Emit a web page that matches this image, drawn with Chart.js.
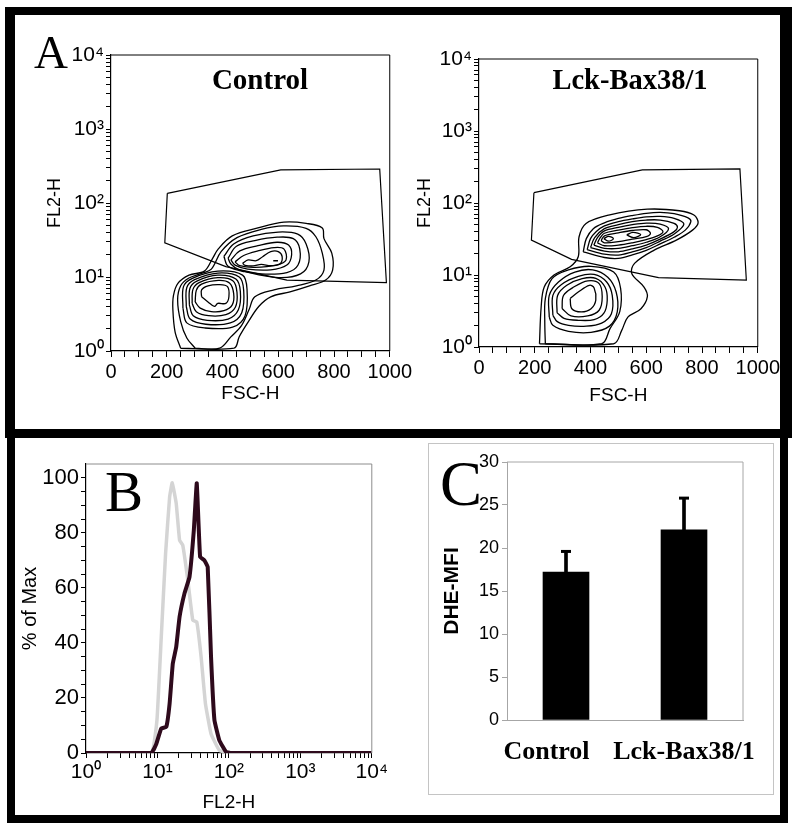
<!DOCTYPE html>
<html>
<head>
<meta charset="utf-8">
<script src="https://cdn.jsdelivr.net/npm/chart.js@4.4.1/dist/chart.umd.min.js"></script>
<style>
  body { margin: 0; background: #fff; width: 800px; height: 831px; position: relative; overflow: hidden; }
  .box { position: absolute; box-sizing: border-box; border: solid #000; }
  canvas { position: absolute; }
  .lbl { position: absolute; line-height: 1; white-space: nowrap; font-family: 'Liberation Serif', 'Times New Roman', serif; color: #000; }
</style>
</head>
<body>
<div class="box" style="left:5px;top:7px;width:787px;height:431px;border-width:8px 12px 9px 10px"></div>
<div class="box" style="left:7px;top:429px;width:781px;height:394px;border-width:9px 8px 8px 8px"></div>
<div class="box" style="left:428px;top:443px;width:346px;height:352px;border:1px solid #c4c4c4"></div>

<canvas id="flowCtrl" width="375" height="380" style="left:40px;top:40px"></canvas>
<canvas id="flowLck" width="378" height="380" style="left:405px;top:40px"></canvas>
<canvas id="hist" width="375" height="370" style="left:15px;top:445px"></canvas>
<canvas id="bars" width="335" height="345" style="left:430px;top:445px"></canvas>

<div class="lbl" style="left:34px;top:29px;font-size:47px">A</div>
<div class="lbl" style="left:105px;top:463px;font-size:57px">B</div>
<div class="lbl" style="left:440px;top:453px;font-size:63px">C</div>
<div class="lbl" style="left:260px;top:65px;font-size:29px;font-weight:bold;transform:translateX(-50%)">Control</div>
<div class="lbl" style="left:630px;top:66px;font-size:28.5px;font-weight:bold;transform:translateX(-50%)">Lck-Bax38/1</div>

<script>
// ---- Panel A: contour outlines, [FSC-H, FL2-H] ----
const ctrlGate = [[202,135],[609,280],[964,288],[988,8.4],[631,9.1],[412,13.8],[193,29]];
const ctrlOuter = [[250,1.09],[230,1.8],[222,3.6],[224,5.6],[240,8.2],[280,10.6],[335,12],[365,18],[385,24],[435,36],[527,46],[620,55],[700,53],[758,46],[764,33],[792,21],[795,12.4],[770,9.1],[712,7.6],[642,6.3],[573,5.4],[530,4.0],[490,2.4],[460,1.56],[441,1.09]];
const ctrlRing2 = [[302,1.09],[272,1.5],[250,2.5],[239,4.9],[250,7.6],[278,9.6],[325,11.2],[360,12.8],[395,22],[452,34],[539,44],[619,49],[700,45.5],[735,35],[758,21],[764,12.4],[735,9.1],[665,7.6],[585,6.7],[516,5.4],[495,3.6],[468,2.2],[430,1.55],[390,1.09]];
const ctrlLowE = [[258,3.8],[260,7.4],[292,9.6],[383,12.0],[472,10.6],[488,6.8],[481,3.0],[436,2.1],[335,2.05],[272,2.4]];
const ctrlLowD = [[270,4.0],[272,7.2],[300,9.2],[383,11.3],[460,10.0],[476,6.6],[469,3.3],[428,2.4],[340,2.3],[284,2.7]];
const ctrlLowC = [[281,4.2],[283,7.0],[308,8.8],[383,10.6],[448,9.4],[464,6.4],[457,3.6],[420,2.7],[345,2.6],[295,3.0]];
const ctrlLowB = [[291,4.4],[294,6.8],[316,8.4],[383,9.8],[437,8.9],[452,6.2],[446,3.9],[412,3.1],[350,3.0],[306,3.4]];
const ctrlLowA = [[302,4.6],[306,6.6],[325,8.0],[385,9.0],[425,8.3],[440,6.0],[435,4.2],[405,3.5],[360,3.4],[320,3.8]];
const ctrlLowIn = [[325,5.4],[325,6.7],[348,7.6],[389,7.9],[418,7.4],[423,5.4],[412,4.4],[383,4.4],[371,4.0],[348,4.6]];
const ctrlUp4 = [[405,19],[440,28],[510,36],[600,40.5],[670,38],[700,28],[710,16],[680,11],[600,9.8],[480,11.8],[420,14]];
const ctrlUp3 = [[420,18],[450,26],[516,31],[596,34.5],[654,33],[677,24],[671,14.5],[631,11.5],[539,11],[460,12.5],[430,15]];
const ctrlUp2 = [[430,17],[462,22.5],[527,26.5],[596,29.5],[637,27],[648,20],[631,14.5],[573,12.5],[490,12.8],[445,14.5]];
const ctrlUp1 = [[445,16],[476,19.5],[527,22.5],[585,25],[620,24],[628,17],[595,14.6],[516,13.5],[462,14.2]];
const ctrlUpIn = [[472,15.3],[492,17.0],[521,16.6],[544,18.8],[573,22],[600,22],[614,18.8],[606,15],[573,14.2],[539,14.8],[510,14.1],[481,14.4]];
const ctrlDash = [[582,16.6],[599,16.6]];

const lckGate = [[197,139],[586,288],[936,297],[959,8.5],[644,9.2],[332,16.5],[188,30.6]];
const lckOuter = [[217,1.11],[223,3.6],[234,6.8],[269,10],[327,13],[356,17.9],[359,34],[384,52],[465,68],[604,82],[719,78],[771,68],[786,53],[766,42],[708,30.5],[627,22],[558,14.5],[548,10.5],[592,6.8],[604,5.0],[581,3.4],[534,2.6],[512,1.7],[483,1.11]];
const lckLowF = [[238,1.11],[236,2.2],[238,4.7],[262,8.9],[321,11.8],[402,13.2],[483,11],[508,6.5],[505,3.1],[470,1.8],[440,1.11]];
const lckLowE = [[252,2.6],[252,5.2],[285,8.0],[344,11],[408,11.8],[462,9.3],[492,5.8],[496,3.07],[468,1.95],[402,1.6],[321,1.65],[265,2.0]];
const lckLowD = [[265,2.76],[265,5.2],[296,7.4],[356,9.6],[413,10.2],[458,8.0],[478,5.2],[475,2.9],[440,2.15],[385,1.95],[321,2.0],[281,2.25]];
const lckLowC = [[280,3.0],[282,5.2],[315,7.2],[370,8.9],[419,9.0],[452,6.8],[460,4.47],[448,2.95],[413,2.4],[356,2.35],[305,2.5]];
const lckLowB = [[298,3.42],[303,5.2],[340,6.8],[390,8.3],[431,7.6],[442,4.97],[431,3.24],[390,2.7],[330,2.7]];
const lckLowIn = [[327,4.7],[356,5.8],[396,7.2],[413,6.6],[419,4.47],[402,3.4],[367,3.07],[333,3.4]];
const lckUpE = [[374,21],[385,32],[410,44],[450,53],[500,61],[550,67],[600,72],[650,74],[700,71],[750,62],[760,55],[740,42],[700,33.5],[650,27],[600,22],[550,19],[500,17],[450,17.5]];
const lckUpD = [[388,22.5],[400,32],[420,40],[450,48],[500,55],[550,60],[600,64],[650,65],[700,61],[735,51],[700,37],[650,29.5],[600,24],[550,21],[500,18.9],[450,19.5]];
const lckUpC = [[400,24],[415,33],[450,44],[500,50],[550,55],[600,58],[650,58],[700,52],[712,46],[700,40],[650,31.5],[600,26],[550,23],[500,21],[450,21.5]];
const lckUpB = [[412,26],[425,33],[450,41],[500,46],[550,50],[600,52.5],[650,51],[680,44],[650,34],[600,28.5],[550,25.5],[500,23.4],[450,23.5]];
const lckUpA = [[425,28],[435,33],[450,38],[500,42],[550,45.5],[600,47.5],[640,46],[660,40],[640,35],[600,31],[550,28],[500,26],[450,25.5]];
const lckUp0 = [[438,30],[450,35],[500,38.5],[550,41.5],[600,42.5],[615,38],[600,34],[550,31.5],[500,29],[450,28]];
const lckOvalL = [[448,32],[465,34.5],[482,32],[465,29.5]];
const lckOvalR = [[530,36],[552,39],[580,36.5],[555,33]];

// ---- Panel B: histogram (% of Max vs FL2-H) ----
const ctrlHistX = [1, 8.2, 9.84, 11.3, 13.0, 14.8, 16.1, 18.3, 20.4, 22.6, 26.6, 31.2, 35.5, 40.8, 46.9, 56.2, 73.5, 100, 10000];
const ctrlHistY = [0, 0, 11.9, 42, 72.5, 93, 98.2, 90.7, 77.3, 75.5, 62.8, 48.3, 47.6, 35, 18, 7, 1, 0, 0];
const lckHistX = [1, 8.2, 9.66, 11.3, 13.3, 14.8, 16.4, 18.3, 20.4, 23.9, 28.1, 32.3, 35.5, 39.5, 45.4, 50.5, 56.2, 62.7, 73.5, 91.2, 105, 10000];
const lckHistY = [0, 0, 3.4, 8.9, 9.5, 18, 32.5, 38.5, 49.5, 58, 64, 81, 98, 71.3, 70, 67.6, 35, 12, 4.6, 0.4, 0, 0];

// ---- Panel C: DHE-MFI bars ----
const groups = ['Control', 'Lck-Bax38/1'];
const dheMean = [17.2, 22.1];
const dheErr = [2.4, 3.7];

Chart.defaults.font.family = "'Liberation Sans', Arial, sans-serif";
Chart.defaults.color = '#000';
Chart.defaults.animation = false;
Chart.defaults.plugins.legend.display = false;
Chart.defaults.plugins.tooltip.enabled = false;

const sup = ['\u2070', '\u00b9', '\u00b2', '\u00b3', '\u2074'];
function decadeLabel(v) {
  const e = Math.log10(v);
  return Math.abs(e - Math.round(e)) < 1e-9 ? '10' + sup[Math.round(e)] : '';
}
const logTicks = [];
for (let d = 0; d < 4; d++) for (let m = 1; m < 10; m++) logTicks.push(m * Math.pow(10, d));
logTicks.push(10000);
const fscTicks = [];
for (let v = 0; v <= 1000; v += 50) fscTicks.push(v);

// stroke the remaining sides of the plot box
const framePlugin = {
  id: 'frame',
  afterDraw(chart, args, opts) {
    const a = chart.chartArea, ctx = chart.ctx, s = opts.sides || 'tr';
    ctx.save();
    ctx.strokeStyle = opts.color || '#000';
    ctx.lineWidth = 1;
    ctx.beginPath();
    if (s.includes('t')) { ctx.moveTo(a.left, a.top); ctx.lineTo(a.right, a.top); }
    if (s.includes('r')) { ctx.moveTo(a.right, a.top); ctx.lineTo(a.right, a.bottom); }
    ctx.stroke();
    ctx.restore();
  }
};

function toPts(ring, close) {
  const pts = ring.map(p => ({x: p[0], y: p[1]}));
  if (close) pts.push({x: ring[0][0], y: ring[0][1]});
  return pts;
}

function flowChart(id, rings, dash, gate, lay) {
  const datasets = rings.map(r => ({
    data: toPts(r, true), showLine: true, borderColor: '#000', borderWidth: 1.3,
    pointRadius: 0, tension: 0.35
  }));
  if (dash) datasets.push({data: toPts(dash, false), showLine: true, borderColor: '#000', borderWidth: 1.5, pointRadius: 0});
  datasets.push({data: toPts(gate, true), showLine: true, borderColor: '#000', borderWidth: 1.2, pointRadius: 0, tension: 0});

  new Chart(document.getElementById(id), {
    type: 'scatter',
    data: {datasets},
    plugins: [framePlugin],
    options: {
      responsive: false,
      devicePixelRatio: 1,
      events: [],
      layout: {padding: {top: lay.top, right: lay.right, left: 0, bottom: 0}},
      plugins: {frame: {color: '#000', sides: 'tr'}},
      scales: {
        x: {
          type: 'linear', min: 0, max: 1000,
          afterBuildTicks: s => { s.ticks = fscTicks.map(v => ({value: v})); },
          afterFit: s => { s.height = lay.xh; },
          ticks: {autoSkip: false, maxRotation: 0, padding: 3, font: {size: 20}, color: '#000',
                  callback: v => (v % 200 === 0 ? String(v) : '')},
          grid: {drawOnChartArea: false, tickLength: 6, color: '#000'},
          border: {color: '#000', width: 1.2},
          title: {display: true, text: 'FSC-H', font: {size: 19}, color: '#000', padding: {top: 0, bottom: lay.xtp}}
        },
        y: {
          type: 'logarithmic', min: 1, max: 10000,
          afterBuildTicks: s => { s.ticks = logTicks.map(v => ({value: v})); },
          afterFit: s => { s.width = lay.yw; },
          ticks: {autoSkip: false, padding: 2, font: {size: 21}, color: '#000', callback: v => decadeLabel(v)},
          grid: {drawOnChartArea: false, tickLength: 5, color: '#000'},
          border: {color: '#000', width: 1.2},
          title: {display: true, text: 'FL2-H', font: {size: 18}, color: '#000', padding: {top: lay.ytp, bottom: 0}}
        }
      }
    }
  });
}

flowChart('flowCtrl',
  [ctrlOuter, ctrlRing2, ctrlLowE, ctrlLowD, ctrlLowC, ctrlLowB, ctrlLowA, ctrlLowIn, ctrlUp4, ctrlUp3, ctrlUp2, ctrlUp1, ctrlUpIn],
  ctrlDash, ctrlGate, {top: 15, right: 15, yw: 71, xh: 69, xtp: 15, ytp: 4});

flowChart('flowLck',
  [lckOuter, lckLowF, lckLowE, lckLowD, lckLowC, lckLowB, lckLowIn, lckUpE, lckUpD, lckUpC, lckUpB, lckUpA, lckUp0, lckOvalL, lckOvalR],
  null, lckGate, {top: 19, right: 15, yw: 74, xh: 73, xtp: 13, ytp: 9});

// Panel B
const pctTicks = [];
for (let v = 0; v <= 100; v += 5) pctTicks.push(v);
new Chart(document.getElementById('hist'), {
  type: 'scatter',
  data: {
    datasets: [
      {data: lckHistX.map((x, i) => ({x, y: lckHistY[i]})), showLine: true, borderColor: '#2e0a1c', borderWidth: 4,
       pointRadius: 0, tension: 0.1},
      {data: ctrlHistX.map((x, i) => ({x, y: ctrlHistY[i]})), showLine: true, borderColor: '#d4d4d4', borderWidth: 3.5,
       pointRadius: 0, tension: 0.1}
    ]
  },
  plugins: [framePlugin],
  options: {
    responsive: false,
    devicePixelRatio: 1,
    events: [],
    layout: {padding: {top: 19, right: 17, left: 0, bottom: 0}},
    plugins: {frame: {color: '#8c8c8c', sides: 'tr'}},
    scales: {
      x: {
        type: 'logarithmic', min: 1, max: 10000,
        afterBuildTicks: s => { s.ticks = logTicks.map(v => ({value: v})); },
        afterFit: s => { s.height = 62; },
        ticks: {autoSkip: false, maxRotation: 0, padding: 2, font: {size: 21}, color: '#000', callback: v => decadeLabel(v)},
        grid: {drawOnChartArea: false, tickLength: 5, color: '#000'},
        border: {color: '#000', width: 1.2},
        title: {display: true, text: 'FL2-H', font: {size: 19}, color: '#000', padding: {top: 0, bottom: 1}}
      },
      y: {
        type: 'linear', min: 0, max: 105,
        afterBuildTicks: s => { s.ticks = pctTicks.map(v => ({value: v})); },
        afterFit: s => { s.width = 71; },
        ticks: {autoSkip: false, padding: 2, font: {size: 22}, color: '#000', callback: v => (v % 20 === 0 ? String(v) : '')},
        grid: {drawOnChartArea: false, tickLength: 5, color: '#000'},
        border: {color: '#000', width: 1.2},
        title: {display: true, text: '% of Max', font: {size: 20}, color: '#000', padding: {top: 3, bottom: 0}}
      }
    }
  }
});

// Panel C
new Chart(document.getElementById('bars'), {
  type: 'bar',
  data: {
    labels: groups,
    datasets: [
      {type: 'line', data: dheMean.map((m, i) => m + dheErr[i]), showLine: false, pointStyle: 'line',
       pointRadius: 5, borderColor: '#000', borderWidth: 3},
      {data: dheMean.map((m, i) => [m, m + dheErr[i]]), backgroundColor: '#000', barThickness: 3, grouped: false},
      {data: dheMean, backgroundColor: '#000', barThickness: 46, grouped: false}
    ]
  },
  plugins: [framePlugin],
  options: {
    responsive: false,
    devicePixelRatio: 1,
    events: [],
    layout: {padding: {top: 17, right: 22, left: 0, bottom: 0}},
    plugins: {frame: {color: '#a6a6a6', sides: 'tr'}},
    scales: {
      x: {
        // labels may run past the plot edge, as in the original
        afterFit: s => { s.height = 70; s.paddingLeft = 0; s.paddingRight = 0; },
        ticks: {autoSkip: false, maxRotation: 0, minRotation: 0, padding: 17, color: '#000',
                font: {family: "'Liberation Serif', 'Times New Roman', serif", size: 26, weight: 'bold'},
                // the first label sits left of its bar in the original
                callback: (v, i) => (i === 0 ? groups[0] + '\u2002\u2002\u2002' : groups[i])},
        grid: {display: false, drawTicks: false},
        border: {color: '#a6a6a6', width: 1}
      },
      y: {
        min: 0, max: 30,
        afterFit: s => { s.width = 77; },
        ticks: {stepSize: 5, padding: 3, font: {size: 18}, color: '#000'},
        grid: {drawOnChartArea: false, tickLength: 5, color: '#a6a6a6'},
        border: {color: '#a6a6a6', width: 1},
        title: {display: true, text: 'DHE-MFI', font: {size: 21, weight: 'bold'}, color: '#000', padding: {top: 10, bottom: 0}}
      }
    }
  }
});
</script>
</body>
</html>
